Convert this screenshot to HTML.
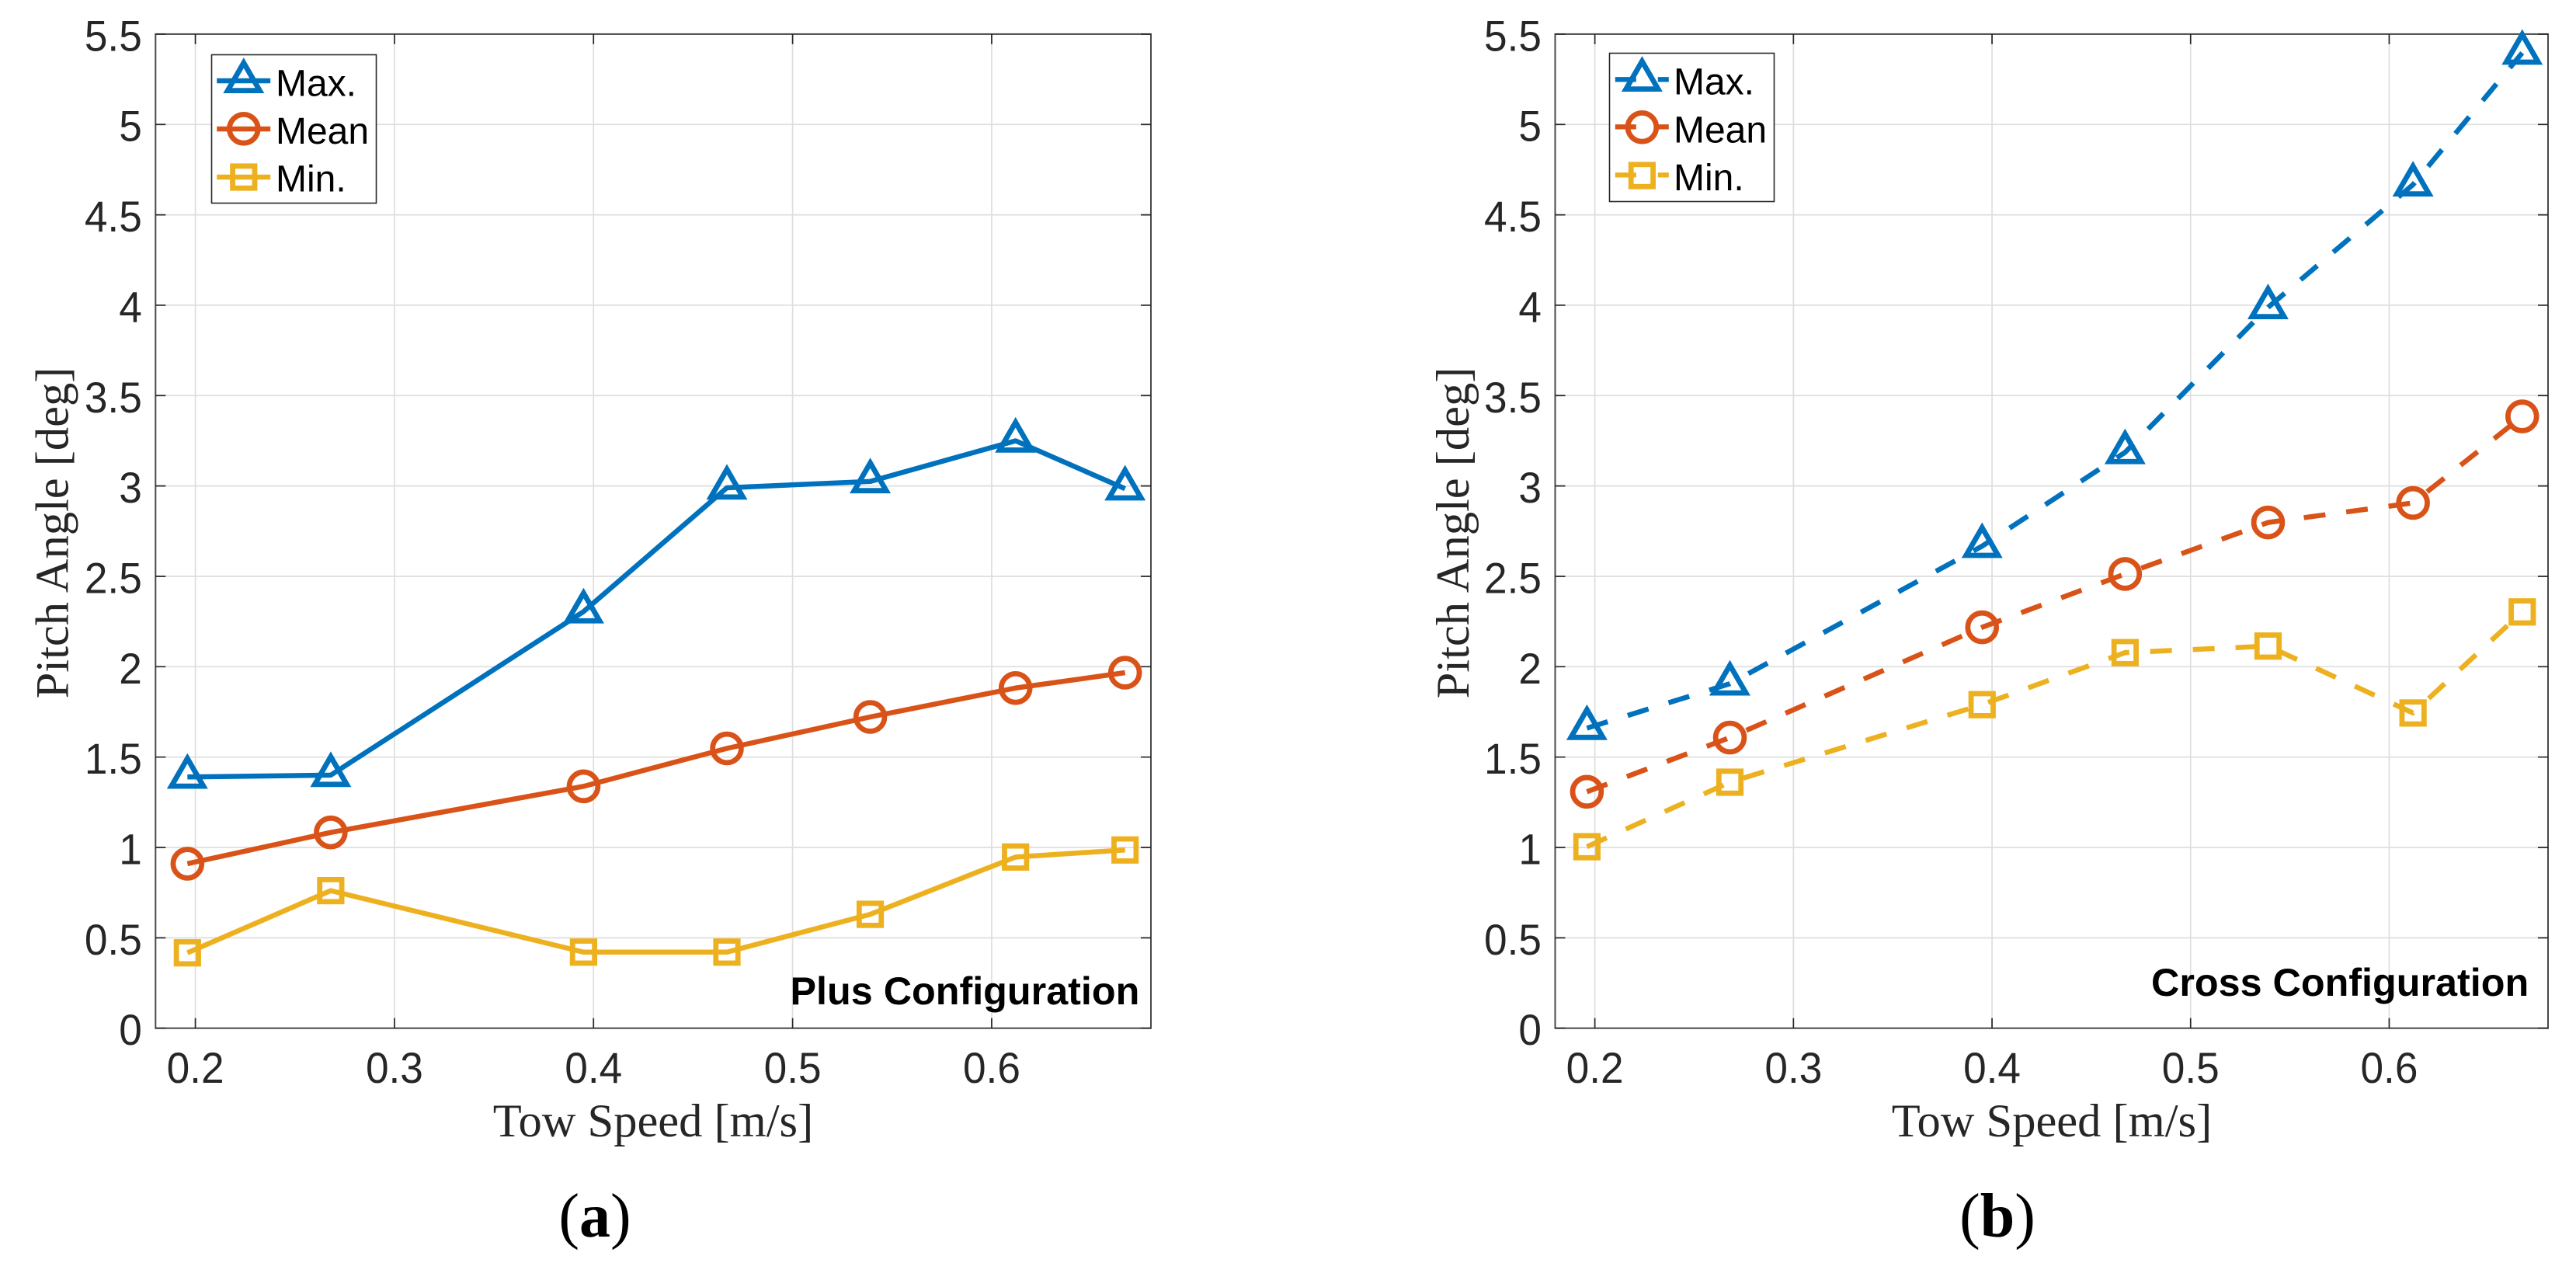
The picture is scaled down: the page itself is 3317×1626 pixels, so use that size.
<!DOCTYPE html>
<html lang="en">
<head>
<meta charset="utf-8">
<title>Pitch Angle vs Tow Speed</title>
<style>
  html, body { margin: 0; padding: 0; background: #ffffff; }
  svg { display: block; }
  .sans { font-family: "Liberation Sans", Arial, sans-serif; }
  .serif { font-family: "Liberation Serif", "Times New Roman", serif; }
  .axis-title { font-size: 60.5px; fill: #262626; }
  .legend-text { font-size: 48px; fill: #000000; }
  .note { font-size: 50.3px; font-weight: 700; fill: #000000; }
  .tick-label { font-size: 56px; fill: #262626; }
  .caption { font-size: 80px; fill: #000000; }
</style>
</head>
<body>
<svg id="figure" xmlns="http://www.w3.org/2000/svg" width="3317" height="1626" viewBox="0 0 3317 1626">
  <rect x="0" y="0" width="3317" height="1626" fill="#ffffff"/>

  <g id="panel-plus"></g>
  <g id="panel-cross"></g>

  <text class="serif axis-title" x="841" y="1463" text-anchor="middle">Tow Speed [m/s]</text>
  <text class="serif axis-title" transform="translate(87.7 686) rotate(-90)" text-anchor="middle">Pitch Angle [deg]</text>
  <text class="serif axis-title" x="2642" y="1463" text-anchor="middle">Tow Speed [m/s]</text>
  <text class="serif axis-title" transform="translate(1891 686) rotate(-90)" text-anchor="middle">Pitch Angle [deg]</text>

  <text class="sans note" x="1017.5" y="1293">Plus Configuration</text>
  <text class="sans note" x="2770" y="1282">Cross Configuration</text>

  <g id="legend-plus">
    <rect x="272.5" y="70.5" width="212" height="191" fill="#ffffff" stroke="#262626" stroke-width="1.6"/>
    <text class="sans legend-text" x="355" y="123.3">Max.</text>
    <text class="sans legend-text" x="355" y="185">Mean</text>
    <text class="sans legend-text" x="355" y="246.7">Min.</text>
  </g>
  <g id="legend-cross">
    <rect x="2072.5" y="68.5" width="212" height="191" fill="#ffffff" stroke="#262626" stroke-width="1.6"/>
    <text class="sans legend-text" x="2155" y="121.7">Max.</text>
    <text class="sans legend-text" x="2155" y="183.3">Mean</text>
    <text class="sans legend-text" x="2155" y="245">Min.</text>
  </g>

  <text class="serif caption" x="766" y="1592" text-anchor="middle">(<tspan font-weight="700">a</tspan>)</text>
  <text class="serif caption" x="2572" y="1592" text-anchor="middle">(<tspan font-weight="700">b</tspan>)</text>
</svg>

<script>
const towSpeed = [0.196, 0.268, 0.395, 0.467, 0.539, 0.612, 0.667];

const plusMax = [1.39, 1.40, 2.305, 2.99, 3.025, 3.25, 2.985];
const plusMean = [0.91, 1.083, 1.338, 1.548, 1.722, 1.882, 1.967];
const plusMin = [0.417, 0.761, 0.421, 0.421, 0.63, 0.947, 0.986];

const crossMax = [1.66, 1.906, 2.667, 3.186, 3.988, 4.667, 5.396];
const crossMean = [1.308, 1.608, 2.218, 2.513, 2.798, 2.906, 3.385];
const crossMin = [1.004, 1.361, 1.79, 2.078, 2.114, 1.744, 2.303];

const xTickValues = [0.2, 0.3, 0.4, 0.5, 0.6];
const xTickLabels = ["0.2", "0.3", "0.4", "0.5", "0.6"];
const yTickValues = [0, 0.5, 1, 1.5, 2, 2.5, 3, 3.5, 4, 4.5, 5, 5.5];
const yTickLabels = ["0", "0.5", "1", "1.5", "2", "2.5", "3", "3.5", "4", "4.5", "5", "5.5"];

const xDomain = [0.18, 0.68];
const yDomain = [0, 5.5];

const SVG_NS = "http://www.w3.org/2000/svg";
const BLUE = "#0072BD", ORANGE = "#D95319", YELLOW = "#EDB120";

function mk(tag, attrs, parent) {
  const el = document.createElementNS(SVG_NS, tag);
  for (const k in attrs) el.setAttribute(k, attrs[k]);
  parent.appendChild(el);
  return el;
}

function drawMarker(parent, kind, cx, cy, color) {
  const common = { fill: "none", stroke: color, "stroke-width": 6.8 };
  let el;
  if (kind === "triangle") {
    const R = 23.8, hw = 20.6, b = 11.9;
    const pts = cx + "," + (cy - R) + " " + (cx + hw) + "," + (cy + b) + " " + (cx - hw) + "," + (cy + b);
    el = mk("polygon", Object.assign({ points: pts, "stroke-linejoin": "miter", "stroke-miterlimit": 10 }, common), parent);
  } else if (kind === "circle") {
    el = mk("circle", Object.assign({ cx: cx, cy: cy, r: 18.4 }, common), parent);
  } else {
    el = mk("rect", Object.assign({ x: cx - 14.2, y: cy - 14.2, width: 28.4, height: 28.4 }, common), parent);
  }
  
  
  return el;
}

function drawChart(cfg) {
  const g = document.getElementById(cfg.groupId);
  const xScale = function (v) {
    return cfg.left + (v - xDomain[0]) / (xDomain[1] - xDomain[0]) * (cfg.right - cfg.left);
  };
  const yScale = function (v) {
    return cfg.bottom - (v - yDomain[0]) / (yDomain[1] - yDomain[0]) * (cfg.bottom - cfg.top);
  };

  xTickValues.forEach(function (v, i) {
    const x = xScale(v);
    const grid = mk("line", { x1: x, x2: x, y1: cfg.top, y2: cfg.bottom, stroke: "#dedede", "stroke-width": 1.7 }, g);
    
    
    const label = mk("text", { transform: "translate(" + x + " " + (cfg.bottom + 70.5) + ") scale(0.95 1)", "text-anchor": "middle", class: "sans tick-label" }, g);
    label.textContent = xTickLabels[i];
    
    
  });
  yTickValues.forEach(function (v, i) {
    const y = yScale(v);
    const grid = mk("line", { x1: cfg.left, x2: cfg.right, y1: y, y2: y, stroke: "#dedede", "stroke-width": 1.7 }, g);
    
    
    const label = mk("text", { transform: "translate(" + (cfg.left - 17.5) + " " + (y + 21.5) + ") scale(0.95 1)", "text-anchor": "end", class: "sans tick-label" }, g);
    label.textContent = yTickLabels[i];
    
    
  });

  const box = mk("rect", { x: cfg.left, y: cfg.top, width: cfg.right - cfg.left, height: cfg.bottom - cfg.top, fill: "none", stroke: "#484848", "stroke-width": 2 }, g);
  
  

  xTickValues.forEach(function (v) {
    const x = xScale(v);
    const d = "M" + x + " " + cfg.bottom + "v-13M" + x + " " + cfg.top + "v13";
    const tick = mk("path", { d: d, stroke: "#262626", "stroke-width": 1.7, fill: "none" }, g);
    
    
  });
  yTickValues.forEach(function (v) {
    const y = yScale(v);
    const d = "M" + cfg.left + " " + y + "h13M" + cfg.right + " " + y + "h-13";
    const tick = mk("path", { d: d, stroke: "#262626", "stroke-width": 1.7, fill: "none" }, g);
    
    
  });

  cfg.series.forEach(function (s) {
    const sg = mk("g", {}, g);
    
    
    const pts = s.values.map(function (v, i) { return xScale(towSpeed[i]) + "," + yScale(v); }).join(" ");
    const attrs = { points: pts, fill: "none", stroke: s.color, "stroke-width": 6.5, "stroke-linejoin": "round" };
    if (cfg.dashed) attrs["stroke-dasharray"] = "28 27";
    const line = mk("polyline", attrs, sg);
    
    
    s.values.forEach(function (v, i) {
      drawMarker(sg, s.marker, xScale(towSpeed[i]), yScale(v), s.color);
    });
  });

  const lg = document.getElementById(cfg.legendId);
  cfg.series.forEach(function (s, i) {
    const y = cfg.legendY[i];
    const attrs = { x1: cfg.legendX, x2: cfg.legendX + 69, y1: y, y2: y, stroke: s.color, "stroke-width": 6.4 };
    if (cfg.dashed) attrs["stroke-dasharray"] = "27 28";
    const handle = mk("line", attrs, lg);
    
    
    drawMarker(lg, s.marker, cfg.legendX + 34.6, cfg.legendMarkerY[i], s.color);
  });
}

drawChart({
  groupId: "panel-plus", legendId: "legend-plus",
  left: 200.3, right: 1482, top: 43.9, bottom: 1323.7, dashed: false,
  legendX: 279.2, legendY: [104, 166, 228], legendMarkerY: [104.7, 165.8, 228],
  series: [
    { name: "max", values: plusMax, color: BLUE, marker: "triangle" },
    { name: "mean", values: plusMean, color: ORANGE, marker: "circle" },
    { name: "min", values: plusMin, color: YELLOW, marker: "square" }
  ]
});

drawChart({
  groupId: "panel-cross", legendId: "legend-cross",
  left: 2002.5, right: 3281, top: 43.9, bottom: 1323.7, dashed: true,
  legendX: 2079.8, legendY: [102.3, 163.3, 225.3], legendMarkerY: [102.7, 163.8, 226],
  series: [
    { name: "max", values: crossMax, color: BLUE, marker: "triangle" },
    { name: "mean", values: crossMean, color: ORANGE, marker: "circle" },
    { name: "min", values: crossMin, color: YELLOW, marker: "square" }
  ]
});
</script>
</body>
</html>
